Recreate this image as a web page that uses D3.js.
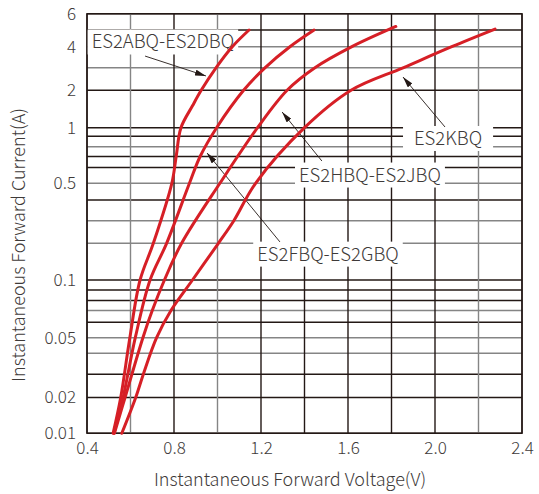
<!DOCTYPE html>
<meta charset="utf-8">
<style>
body { margin: 0; background: #fff; }
text { font-family: "Noto Sans CJK SC", "Noto Sans", sans-serif; font-weight: 300; fill: #3e3a39; }
.curve { fill: none; stroke: #d61f26; stroke-width: 3px; stroke-linecap: round; }
.arrow { stroke: #231815; stroke-width: 0.9px; }
</style>
<svg width="539" height="494"></svg>
<script src="https://d3js.org/d3.v7.min.js"></script>
<script>
// axis grid values (the current axis of the source is an uneven log grid)
var xGrid = [0.4, 0.6, 0.8, 1.0, 1.2, 1.4, 1.6, 1.8, 2.0, 2.2, 2.4];
var xTicks = [0.4, 0.8, 1.2, 1.6, 2.0, 2.4];
var xGray = [0.6, 1.0, 2.2];
var yGrid = [0.01, 0.02, 0.03, 0.04, 0.05, 0.06, 0.07, 0.08, 0.09, 0.1,
             0.2, 0.3, 0.4, 0.5, 0.6, 0.7, 0.8, 0.9, 1, 2, 3, 4, 5, 6];
var yTicks = [0.01, 0.02, 0.05, 0.1, 0.5, 1, 2, 4, 6];
var yGray = [0.04, 0.05, 0.07, 0.2, 0.3, 0.5, 0.8, 3, 4];

// series: forward voltage (V) vs forward current (A)
var abqI = [0.01, 0.02, 0.05, 0.1, 0.2, 0.5, 0.7, 1, 1.5, 2, 3, 4, 5];
var abqV = [0.52, 0.555, 0.597, 0.644, 0.705, 0.79, 0.81, 0.832, 0.885, 0.925, 0.993, 1.068, 1.145];

var fbqI = [0.01, 0.02, 0.05, 0.1, 0.2, 0.5, 0.7, 1, 2, 3, 4, 5];
var fbqV = [0.524, 0.566, 0.622, 0.69, 0.766, 0.871, 0.92, 0.996, 1.12, 1.218, 1.333, 1.444];

var hbqI = [0.01, 0.02, 0.05, 0.07, 0.1, 0.2, 0.5, 1, 2, 3, 4, 5.2];
var hbqV = [0.526, 0.575, 0.657, 0.70, 0.756, 0.835, 1.011, 1.184, 1.32, 1.448, 1.618, 1.82];

var kbqI = [0.01, 0.02, 0.03, 0.05, 0.07, 0.1, 0.2, 0.3, 0.5, 1, 2, 3, 4, 5.05];
var kbqV = [0.56, 0.624, 0.659, 0.72, 0.786, 0.885, 1.004, 1.075, 1.175, 1.40, 1.614, 1.853, 2.077, 2.276];

var seriesNames = ["ES2ABQ-ES2DBQ", "ES2FBQ-ES2GBQ", "ES2HBQ-ES2JBQ", "ES2KBQ"];

// labels: text anchor point and arrow tail/tip, all in (V, A)
var labelPos = [[0.749, 4.26], [1.508, 0.163], [1.701, 0.55], [2.06, 0.878]];
var arrowFrom = [[0.667, 3.52], [1.287, 0.205], [1.48, 0.657], [2.046, 1.013]];
var arrowTo = [[0.947, 2.59], [0.952, 0.734], [1.297, 1.338], [1.853, 2.54]];

var svg = d3.select("svg"),
    margin = {top: 13.7, left: 87},
    width = 435,
    height = 419.6,
    g = svg.append("g").attr("transform", "translate(" + margin.left + "," + margin.top + ")");

var x = d3.scaleLinear().domain([0.4, 2.4]).range([0, width]);

// pixel offset of each grid line from the top, as drawn on the source sheet
var yGridPos = [419.6, 383.8, 360.5, 339.6, 324, 308.6, 296.8, 286.8, 276.3, 266.3,
                229.6, 207, 186.3, 169.6, 153.8, 142.8, 133, 122.6, 114, 76.6, 54.1, 33, 16.3, 0];
var yLog = d3.scaleLinear().domain(yGrid.map(Math.log10)).range(yGridPos);
function y(v) { return yLog(Math.log10(v)); }

function isIn(arr, v) { return arr.some(function(a) { return Math.abs(a - v) < 1e-9; }); }
var dark = "#231815", gray = "#858585";

// grid
g.append("g").selectAll("line")
  .data(yGrid)
  .enter().append("line")
    .attr("x1", 0).attr("x2", width)
    .attr("y1", function(d) { return y(d); })
    .attr("y2", function(d) { return y(d); })
    .attr("stroke", function(d) { return isIn(yGray, d) ? gray : dark; })
    .attr("stroke-width", 1.4);

g.append("g").selectAll("line")
  .data(xGrid)
  .enter().append("line")
    .attr("y1", 0).attr("y2", height)
    .attr("x1", function(d) { return x(d); })
    .attr("x2", function(d) { return x(d); })
    .attr("stroke", function(d) { return isIn(xGray, d) ? gray : dark; })
    .attr("stroke-width", 1.4);

g.append("rect")
  .attr("width", width).attr("height", height)
  .attr("fill", "none").attr("stroke", dark).attr("stroke-width", 1.4);

// axes (labels only)
var xAxis = g.append("g")
  .attr("transform", "translate(0," + height + ")")
  .call(d3.axisBottom(x).tickValues(xTicks).tickFormat(d3.format(".1f")).tickSize(0).tickPadding(9));
xAxis.select(".domain").remove();
xAxis.selectAll("text").attr("font-size", 17).attr("font-family", null).attr("fill", null);

g.append("g").selectAll("text")
  .data(yTicks)
  .enter().append("text")
    .attr("x", -11)
    .attr("y", function(d) { return y(d); })
    .attr("dy", "0.35em")
    .attr("text-anchor", "end")
    .attr("font-size", 17)
    .text(function(d) { return String(d); });

svg.append("text")
  .attr("x", 290).attr("y", 486)
  .attr("text-anchor", "middle")
  .attr("font-size", 18)
  .text("Instantaneous Forward Voltage(V)");

svg.append("text")
  .attr("transform", "translate(25,245) rotate(-90)")
  .attr("text-anchor", "middle")
  .attr("font-size", 18)
  .text("Instantaneous Forward Current(A)");

// label boxes
var pad = [4, 4, 4, 11];
var labels = g.append("g").selectAll("g")
  .data(seriesNames)
  .enter().append("g");
labels.append("text")
  .attr("x", function(d, i) { return x(labelPos[i][0]); })
  .attr("y", function(d, i) { return y(labelPos[i][1]); })
  .attr("dy", "0.35em")
  .attr("text-anchor", "middle")
  .attr("font-size", 18.5)
  .text(function(d) { return d; });
labels.each(function(d, i) {
  var t = d3.select(this).select("text"), bb = t.node().getBBox();
  d3.select(this).insert("rect", "text")
    .attr("x", bb.x - pad[i]).attr("width", bb.width + 2 * pad[i])
    .attr("y", y(labelPos[i][1]) - 12.5).attr("height", 25)
    .attr("fill", "#fff");
});

// arrows
svg.append("defs").append("marker")
    .attr("id", "head")
    .attr("viewBox", "0 0 10 10")
    .attr("refX", 10).attr("refY", 5)
    .attr("markerUnits", "userSpaceOnUse")
    .attr("markerWidth", 11).attr("markerHeight", 6)
    .attr("preserveAspectRatio", "none")
    .attr("orient", "auto")
  .append("path")
    .attr("d", "M0,0L10,5L0,10z")
    .attr("fill", dark);

g.append("g").selectAll("line")
  .data(seriesNames)
  .enter().append("line")
    .attr("class", "arrow")
    .attr("x1", function(d, i) { return x(arrowFrom[i][0]); })
    .attr("y1", function(d, i) { return y(arrowFrom[i][1]); })
    .attr("x2", function(d, i) { return x(arrowTo[i][0]); })
    .attr("y2", function(d, i) { return y(arrowTo[i][1]); })
    .attr("marker-end", "url(#head)");

// curves
var line = d3.line()
    .curve(d3.curveCatmullRom.alpha(0.5))
    .x(function(d) { return x(d[0]); })
    .y(function(d) { return y(d[1]); });

var curves = [
  d3.zip(abqV, abqI),
  d3.zip(fbqV, fbqI),
  d3.zip(hbqV, hbqI),
  d3.zip(kbqV, kbqI)
];

g.append("g").selectAll("path")
  .data(curves)
  .enter().append("path")
    .attr("class", "curve")
    .attr("d", line);
</script>
